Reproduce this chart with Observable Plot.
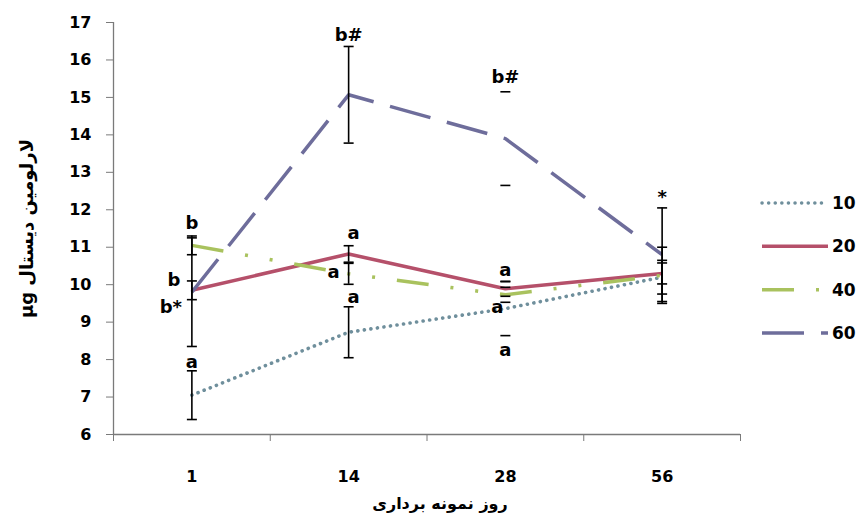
<!DOCTYPE html>
<html>
<head>
<meta charset="utf-8">
<script src="https://cdn.jsdelivr.net/npm/d3@7"></script>
<script src="https://cdn.jsdelivr.net/npm/@observablehq/plot@0.6"></script>
<style>
  html, body { margin: 0; padding: 0; background: #fff; }
  #wrap { position: relative; width: 861px; height: 525px; overflow: hidden; }
  #legend { position: absolute; left: 0; top: 0; }
</style>
</head>
<body>
<div id="wrap"></div>
<script>
// ---- data ----
const days = ["1", "14", "28", "56"];
const seriesNames = ["10", "20", "40", "60"];
const mean10 = [7.05, 8.73, 9.36, 10.2];
const mean20 = [9.85, 10.82, 9.89, 10.3];
const mean40 = [11.05, 10.29, 9.73, 10.25];
const mean60 = [9.8, 15.07, 13.9, 10.8];
const err10 = [0.65, 0.68, 0.72, 0.45];
const err20 = [0.25, 0.22, 0.2, 0.28];
const err40 = [0.25, 0.28, 0.2, 0.75];
const err60 = [1.45, 1.29, 1.25, 1.25];
const stemDrawn = [true, true, false, true]; // day 28 shows caps only
const yTicks = [6, 7, 8, 9, 10, 11, 12, 13, 14, 15, 16, 17];

const annText = ["b", "b", "b*", "a", "b#", "a", "a", "a", "b#", "a", "a", "a", "*"];
const annDay = [0, 0, 0, 0, 1, 1, 1, 1, 2, 2, 2, 2, 3];
const annValue = [11.63, 10.11, 9.39, 7.92, 16.65, 11.37, 10.33, 9.66, 15.53, 10.38, 9.39, 8.24, 12.33];
const annDx = [0, -18, -21, 0, 0, 5, -15, 5, 0, 0, -8, 0, 0];

const xTitle = "روز نمونه برداری";
const yTitle = "µg لارلومین دیستال";

// ---- styles ----
const colors = ["#6f8f9c", "#b5506a", "#a9c25e", "#6e6d9b"];
const dashes = ["0.1,6.5", "none", "32,22,3,22,3,22", "42,17"];
const caps = ["round", "butt", "butt", "butt"];
const font = "DejaVu Sans, Verdana, sans-serif";

const means = [mean10, mean20, mean40, mean60];
const errs = [err10, err20, err40, err60];
const rows = [];
seriesNames.forEach((s, k) => days.forEach((d, i) => rows.push({
  series: s, k, i, day: d, mean: means[k][i], err: errs[k][i], stem: stemDrawn[i]
})));
const ann = annText.map((t, j) => ({text: t, i: annDay[j], v: annValue[j], dx: annDx[j]}));

const hline = {
  draw(ctx, size) {
    const r = Math.sqrt(size / Math.PI);
    ctx.moveTo(-r, 0);
    ctx.lineTo(r, 0);
  }
};

const lineMarks = seriesNames.map((s, k) =>
  Plot.line(rows.filter(d => d.series === s), {
    x: "i", y: "mean", stroke: colors[k], strokeWidth: k === 0 ? 3.6 : 3.5,
    strokeDasharray: dashes[k], strokeLinecap: caps[k], strokeLinejoin: "round"
  })
);

const annMarks = ann.map(a =>
  Plot.text([a], {x: "i", y: "v", text: "text", dx: a.dx, fontSize: 18, fontWeight: "bold", fill: "black"})
);

const chart = Plot.plot({
  width: 861, height: 525,
  marginLeft: 113, marginRight: 121, marginTop: 22, marginBottom: 91,
  x: {domain: [-0.5, 3.5], axis: null},
  y: {domain: [6, 17], axis: null},
  style: {fontFamily: font, background: "white", color: "black", overflow: "visible"},
  marks: [
    Plot.axisX({ticks: [-0.5, 0.5, 1.5, 2.5, 3.5], tickSize: 7, tickFormat: () => "", stroke: "#7a7a7a", label: null}),
    Plot.axisX({ticks: [0, 1, 2, 3], tickSize: 0, tickPadding: 36, tickFormat: i => days[i],
      fontSize: 16, fontWeight: "bold", label: null}),
    Plot.axisY({ticks: yTicks, tickSize: 7, tickPadding: 15, stroke: "#7a7a7a",
      fontSize: 16, fontWeight: "bold", label: null}),
    Plot.ruleY([6], {stroke: "#7a7a7a", strokeWidth: 1.3}),
    Plot.ruleX([-0.5], {stroke: "#7a7a7a", strokeWidth: 1.3}),
    ...lineMarks,
    Plot.ruleX(rows.filter(d => d.stem), {x: "i", y1: d => d.mean - d.err, y2: d => d.mean + d.err, stroke: "black", strokeWidth: 1.6}),
    Plot.dot(rows, {x: "i", y: d => d.mean + d.err, symbol: hline, r: 5, fill: "none", stroke: "black", strokeWidth: 1.6}),
    Plot.dot(rows, {x: "i", y: d => d.mean - d.err, symbol: hline, r: 5, fill: "none", stroke: "black", strokeWidth: 1.6}),
    ...annMarks,
    Plot.text([yTitle], {frameAnchor: "left", dx: -86, rotate: -90, textAnchor: "middle", fontSize: 18, fontWeight: "bold", fill: "black"}),
    Plot.text([xTitle], {frameAnchor: "bottom", dy: 74, dx: 13, textAnchor: "middle", fontSize: 16, fontWeight: "bold", fill: "black"})
  ]
});

const wrap = document.getElementById("wrap");
wrap.appendChild(chart);

// ---- legend ----
const legend = d3.select(wrap).append("svg")
  .attr("id", "legend").attr("width", 861).attr("height", 525)
  .style("pointer-events", "none");
const legendY = d3.scalePoint().domain(seriesNames).range([203, 333]);
const g = legend.selectAll("g").data(seriesNames).join("g")
  .attr("transform", d => `translate(0,${legendY(d)})`);
g.append("line").attr("x1", 762).attr("x2", 828).attr("y1", 0).attr("y2", 0)
  .attr("stroke", (d, k) => colors[k]).attr("stroke-width", 3.5)
  .attr("stroke-dasharray", (d, k) => dashes[k])
  .attr("stroke-linecap", (d, k) => caps[k]);
g.append("text").attr("x", 832).attr("dy", "0.36em").text(d => d)
  .attr("font-family", font).attr("font-size", 17).attr("font-weight", "bold").attr("fill", "black");
</script>
</body>
</html>
